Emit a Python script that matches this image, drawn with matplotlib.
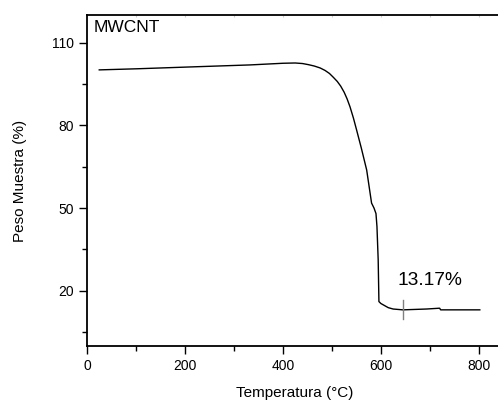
import numpy as np
import matplotlib
matplotlib.use("Agg")
from matplotlib import pyplot as plt

plt.rcParams['font.family'] = ['Liberation Sans', 'DejaVu Sans']

# TGA curve
temp = [25, 102, 200, 333, 400, 425, 440, 452, 464, 476, 486, 495, 503,
        511, 518, 525, 531, 537, 544, 550, 560, 571, 581, 586, 590, 592,
        594.5, 596, 600, 605, 615, 625, 645, 693, 720, 722, 802]
peso = [100.1, 100.5, 101.1, 101.9, 102.5, 102.6, 102.4, 102.0, 101.5,
        100.8, 99.9, 98.8, 97.4, 95.9, 94.2, 92.0, 89.6, 86.7, 82.6, 78.6,
        71.8, 63.8, 51.8, 50.0, 48.0, 43.3, 31.2, 16.1, 15.4, 14.9, 13.9,
        13.4, 13.1, 13.4, 13.7, 13.1, 13.1]

marca_x = 645
marca_y = (9.8, 16.7)
residuo = "13.17%"

fig = plt.figure(figsize=(4.98, 4.01), dpi=100)
ax = fig.add_axes([0.1747, 0.1372, 0.836, 0.8254])

ax.plot(temp, peso, color='black', lw=1.0)
ax.plot([marca_x, marca_x], marca_y, color='gray', lw=1.0)
ax.text(633, 23.6, residuo, fontsize=13.8, va='center', ha='left')
ax.text(0.015, 0.985, "MWCNT", transform=ax.transAxes, fontsize=12.5,
        va='top', ha='left')

ax.set_xlim(0, 850)
ax.set_ylim(0, 120)
ax.set_xticks([0, 200, 400, 600, 800])
ax.set_xticks([100, 300, 500, 700], minor=True)
ax.set_yticks([20, 50, 80, 110])
ax.set_yticks([5, 35, 65, 95], minor=True)

for s in ['left', 'bottom', 'top']:
    ax.spines[s].set_linewidth(1.3)
ax.spines['right'].set_visible(False)

ax.tick_params(which='major', direction='out', length=6, width=1.0,
               labelsize=10, top=False, right=False)
ax.tick_params(which='minor', direction='out', length=3.5, width=1.0,
               top=False, right=False)

# faint ticks along the top spine
sec = ax.secondary_xaxis('top')
sec.set_xticks(np.arange(100, 900, 100))
sec.tick_params(direction='in', length=1.5, width=0.8, color='#cccccc',
                labeltop=False)
sec.spines['top'].set_visible(False)

ax.set_xlabel("Temperatura (°C)", fontsize=11, labelpad=9)
ax.set_ylabel("Peso Muestra (%)", fontsize=11, labelpad=18)

fig.savefig("out.png", dpi=100)
